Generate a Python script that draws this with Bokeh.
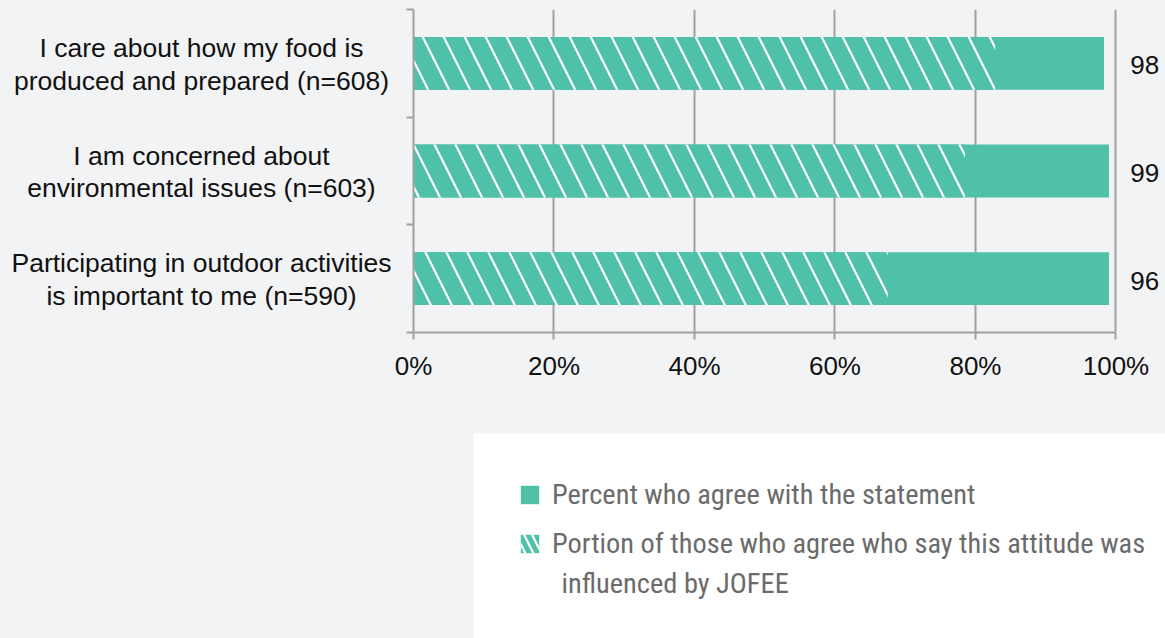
from bokeh.plotting import figure
from bokeh.models import (ColumnDataSource, FixedTicker, Legend, LegendItem,
                          Spacer, CustomJSTickFormatter)
from bokeh.layouts import column, row
from bokeh.core.properties import value
from bokeh.embed import file_html
from bokeh.resources import INLINE

# ---------------- data ----------------
statements = [
    "I care about how my food is\nproduced and prepared (n=608)",
    "I am concerned about\nenvironmental issues (n=603)",
    "Participating in outdoor activities\nis important to me (n=590)",
]
agree_pct = [98.3, 99.0, 99.0]          # bar length (percent who agree)
jofee_pct = [82.8, 78.5, 67.5]          # hatched portion influenced by JOFEE
value_labels = ["98", "99", "96"]
x_ticks = [0, 20, 40, 60, 80, 100]
legend_labels = ["Percent who agree with the statement",
                 "Portion of those who agree who say this attitude was",
                 "influenced by JOFEE"]

BG = "#f2f3f5"
TEAL = "#4fc1a8"
AXIS = "#a0a0a0"
FONT = "Liberation Sans"
LEG_FONT = "Roboto Condensed, DejaVu Sans Condensed, sans-serif"
LEG_COLOR = "#6b6b6b"

n = len(statements)
ypos = [n - i - 0.5 for i in range(n)]   # top to bottom

src = ColumnDataSource(dict(y=ypos, agree=agree_pct, jofee=jofee_pct,
                            lab=value_labels, lx=[104.1] * n, cat=statements))

LABEL_W = 393
TOP, BOTTOM, H = 9, 101, 433

# ---------------- category label panel ----------------
pl = figure(width=LABEL_W, height=H, x_range=(0, LABEL_W), output_backend="svg",
            toolbar_location=None, x_axis_location=None, y_axis_location=None,
            min_border_left=0, min_border_right=0, min_border_top=TOP,
            min_border_bottom=BOTTOM)
pl.background_fill_color = BG
pl.border_fill_color = BG
pl.outline_line_color = None
pl.xgrid.grid_line_color = None
pl.ygrid.grid_line_color = None

# ---------------- main chart ----------------
p = figure(width=1165 - LABEL_W, height=H, x_range=(0, 107.05), y_range=(0, n),
           output_backend="svg", toolbar_location=None,
           min_border_left=20, min_border_right=0, min_border_top=TOP,
           min_border_bottom=BOTTOM)
pl.y_range = p.y_range
p.background_fill_color = BG
p.border_fill_color = BG
p.outline_line_color = None

pl.text(x=201, y="y", text="cat", source=src, text_align="center",
        text_baseline="middle", text_font=value(FONT), text_font_size="26.5px",
        text_color="#111111", text_line_height=1.08, y_offset=1)

bar_h = 0.49
p.hbar(y="y", left=0, right="agree", height=bar_h, source=src,
       fill_color=TEAL, line_color=None)
p.hbar(y="y", left=0, right="jofee", height=bar_h, source=src,
       fill_color=TEAL, line_color=None, hatch_pattern="\\",
       hatch_color="white", hatch_weight=2.2, hatch_scale=42)

p.text(x="lx", y="y", text="lab", source=src, text_align="center",
       text_baseline="middle", text_font=value(FONT), text_font_size="26px",
       text_color="#111111", y_offset=2)

# x axis
xa = p.xaxis[0]
xa.ticker = FixedTicker(ticks=x_ticks, minor_ticks=[])
xa.formatter = CustomJSTickFormatter(code="return tick.toFixed(0) + '%'")
xa.bounds = (-1, 100)
xa.axis_line_color = AXIS
xa.axis_line_width = 2
xa.major_tick_line_color = AXIS
xa.major_tick_line_width = 2
xa.major_tick_in = 0
xa.major_tick_out = 7
xa.minor_tick_line_color = None
xa.major_label_text_font = FONT
xa.major_label_text_font_size = "26px"
xa.major_label_text_color = "#111111"
xa.major_label_standoff = 11

# y axis: ticks at category boundaries, labels in the left panel
ya = p.yaxis[0]
ya.ticker = FixedTicker(ticks=ypos, minor_ticks=list(range(n + 1)))
ya.formatter = CustomJSTickFormatter(code="return ''")
ya.major_label_standoff = 0
ya.axis_line_color = AXIS
ya.axis_line_width = 2
ya.major_tick_line_color = None
ya.major_tick_in = 0
ya.major_tick_out = 0
ya.minor_tick_line_color = AXIS
ya.minor_tick_line_width = 2
ya.minor_tick_in = 0
ya.minor_tick_out = 7

p.xgrid.ticker = FixedTicker(ticks=x_ticks)
p.xgrid.grid_line_color = AXIS
p.xgrid.grid_line_width = 2
p.ygrid.grid_line_color = None

# ---------------- legend panel ----------------
LW, LH = 692, 205
lg = figure(width=LW, height=LH, output_backend="svg", toolbar_location=None,
            x_axis_location=None, y_axis_location=None,
            min_border=0, x_range=(0, LW), y_range=(LH, 0))
lg.background_fill_color = "white"
lg.border_fill_color = "white"
lg.outline_line_color = None
lg.xgrid.grid_line_color = None
lg.ygrid.grid_line_color = None

# swatch renderers (hidden in this panel: only the legend shows their style)
r1 = lg.hbar(y="y", left=0, right="agree", height=bar_h, source=src,
             fill_color=TEAL, line_color=None, visible=False)
r2 = lg.hbar(y="y", left=0, right="jofee", height=bar_h, source=src,
             fill_color=TEAL, line_color=None, hatch_pattern="\\",
             hatch_color="white", hatch_weight=2.2, hatch_scale=16, visible=False)

legend = Legend(items=[
    LegendItem(label=legend_labels[0], renderers=[r1], index=0),
    LegendItem(label=legend_labels[1], renderers=[r2], index=0),
], location="top_left")
legend.margin = 45
legend.padding = 10
legend.background_fill_alpha = 0
legend.border_line_color = None
legend.glyph_width = 23
legend.glyph_height = 23
legend.label_standoff = 11
legend.spacing = 16
legend.label_text_font = LEG_FONT
legend.label_text_font_size = "28.4px"
legend.label_text_color = LEG_COLOR
legend.label_height = 23
lg.add_layout(legend, "center")

# continuation line of the second legend entry
lg.text(x=88, y=150, text=[legend_labels[2]], text_align="left",
        text_baseline="alphabetic", text_font=value(LEG_FONT),
        text_font_size="28.4px", text_color=LEG_COLOR)

layout = column(row(pl, p), row(Spacer(width=1165 - LW, height=LH), lg))

html = file_html(layout, INLINE)
html = html.replace(
    "</head>",
    "<style>html,body{margin:0;padding:0;background-color:%s;}</style></head>" % BG, 1)
open("out.html", "w").write(html)
